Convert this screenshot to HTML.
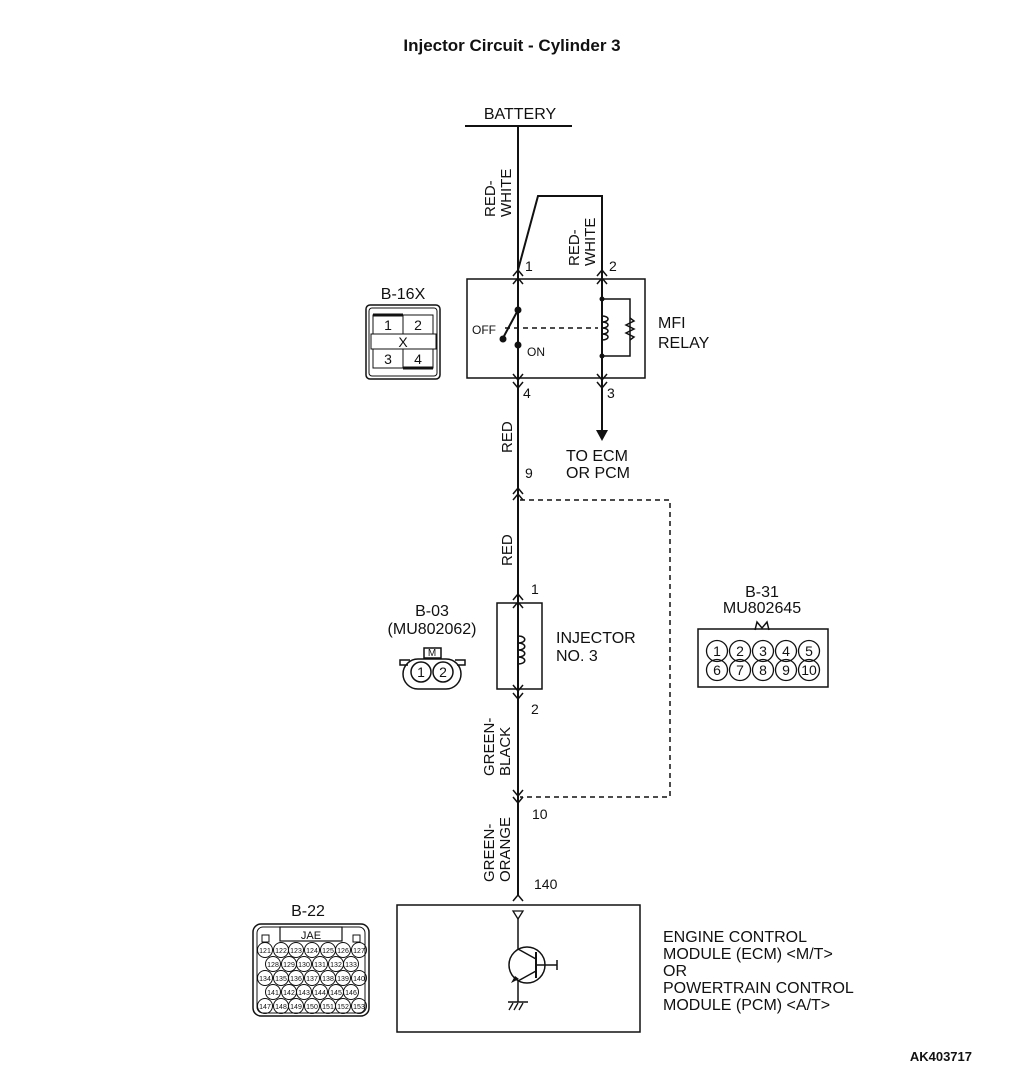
<!DOCTYPE html>
<html><head><meta charset="utf-8"><style>
html,body{margin:0;padding:0;background:#fff}
svg{display:block}
text{font-family:"Liberation Sans",Arial,sans-serif;fill:#111}
</style></head><body>
<svg width="1010" height="1073" viewBox="0 0 1010 1073" xmlns="http://www.w3.org/2000/svg">
<g font-size="15">
<text x="512" y="51" font-size="17" font-weight="bold" text-anchor="middle">Injector Circuit - Cylinder 3</text>
<text x="520" y="119" font-size="16" text-anchor="middle">BATTERY</text>
</g>
<g stroke="#111" stroke-width="2" fill="none">
<line x1="465" y1="126" x2="572" y2="126"/>
<line x1="518" y1="126" x2="518" y2="896"/>
<polyline points="518,270 538,196 602,196 602,433"/>
<rect x="467" y="279" width="178" height="99" stroke-width="1.5"/>
<rect x="497" y="603" width="45" height="86" stroke-width="1.5"/>
<rect x="397" y="905" width="243" height="127" stroke-width="1.5"/>
<g stroke-width="1.5">
<polyline points="513,276 518,270 523,276"/><polyline points="513,284 518,278 523,284"/>
<polyline points="597,276 602,270 607,276"/><polyline points="597,284 602,278 607,284"/>
<polyline points="513,374 518,380 523,374"/><polyline points="513,382 518,388 523,382"/>
<polyline points="597,374 602,380 607,374"/><polyline points="597,382 602,388 607,382"/>
<polyline points="513,494 518,488 523,494"/><polyline points="513,500 518,494 523,500"/>
<polyline points="513,600 518,594 523,600"/><polyline points="513,608 518,602 523,608"/>
<polyline points="513,685 518,691 523,685"/><polyline points="513,693 518,699 523,693"/>
<polyline points="513,790 518,796 523,790"/><polyline points="513,797 518,803 523,797"/>
<polyline points="513,901 518,895 523,901"/>
</g>
<line x1="518" y1="284" x2="518" y2="310"/>
<line x1="518" y1="345" x2="518" y2="374"/>
<line x1="518" y1="310" x2="503" y2="338"/>
<line x1="505" y1="328" x2="598" y2="328" stroke-dasharray="5,4" stroke-width="1.5"/>
<polyline points="602,299 630,299 630,356 602,356" stroke-width="1.5"/>
<path d="M602,316 c8,0 8,6 0,6 c8,0 8,6 0,6 c8,0 8,6 0,6 c8,0 8,6 0,6" stroke-width="1.5"/>
<polyline points="630,318 634,321 626,325 634,329 626,333 634,337 630,340" stroke-width="1.5"/>
<polyline points="520,500 670,500 670,797 520,797" stroke-dasharray="5,4" stroke-width="1.5"/>
<path d="M518,636 c9,0 9,7 0,7 c9,0 9,7 0,7 c9,0 9,7 0,7 c9,0 9,7 0,7" stroke-width="1.5"/>
<polygon points="513,911 523,911 518,919" stroke-width="1.3"/>
<line x1="518" y1="919" x2="518" y2="949" stroke-width="1.5"/>
<circle cx="527" cy="965" r="18" stroke-width="1.5"/>
<line x1="536" y1="952" x2="536" y2="978" stroke-width="2"/>
<line x1="518" y1="949" x2="536" y2="959" stroke-width="1.5"/>
<line x1="536" y1="971" x2="518" y2="981" stroke-width="1.5"/>
<line x1="518" y1="981" x2="518" y2="1002" stroke-width="1.5"/>
<line x1="536" y1="965" x2="557" y2="965" stroke-width="1.5"/>
<line x1="557" y1="960" x2="557" y2="970" stroke-width="1.5"/>
<line x1="508" y1="1002" x2="528" y2="1002" stroke-width="1.5"/>
<line x1="509" y1="1010" x2="513" y2="1003" stroke-width="1.3"/><line x1="514" y1="1010" x2="518" y2="1003" stroke-width="1.3"/><line x1="519" y1="1010" x2="523" y2="1003" stroke-width="1.3"/>
</g>
<g fill="#111">
<circle cx="518" cy="310" r="3.5"/><circle cx="503" cy="339" r="3.5"/><circle cx="518" cy="345" r="3.5"/>
<circle cx="602" cy="299" r="2.5"/><circle cx="602" cy="356" r="2.5"/>
<polygon points="596,430 608,430 602,441"/>
<polygon points="519,979 511,983 515,976"/>
</g>
<g font-size="14">
<text x="525" y="271">1</text><text x="609" y="271">2</text>
<text x="523" y="398">4</text><text x="607" y="398">3</text>
<text x="525" y="478">9</text>
<text x="531" y="594">1</text><text x="531" y="714">2</text>
<text x="532" y="819">10</text>
<text x="534" y="889">140</text>
<text x="472" y="334" font-size="12">OFF</text>
<text x="527" y="356" font-size="12">ON</text>
<text x="658" y="328" font-size="16">MFI</text>
<text x="658" y="348" font-size="16">RELAY</text>
<text x="566" y="461" font-size="16">TO ECM</text>
<text x="566" y="478" font-size="16">OR PCM</text>
<text x="556" y="643" font-size="16">INJECTOR</text>
<text x="556" y="661" font-size="16">NO. 3</text>
<text x="663" y="942" font-size="16">ENGINE CONTROL</text>
<text x="663" y="959" font-size="16">MODULE (ECM) &lt;M/T&gt;</text>
<text x="663" y="976" font-size="16">OR</text>
<text x="663" y="993" font-size="16">POWERTRAIN CONTROL</text>
<text x="663" y="1010" font-size="16">MODULE (PCM) &lt;A/T&gt;</text>
<text x="972" y="1061" font-size="13" font-weight="bold" text-anchor="end">AK403717</text>
</g>
<g font-size="15">
<text transform="translate(495,217) rotate(-90)">RED-</text>
<text transform="translate(511,217) rotate(-90)">WHITE</text>
<text transform="translate(579,266) rotate(-90)">RED-</text>
<text transform="translate(595,266) rotate(-90)">WHITE</text>
<text transform="translate(512,453) rotate(-90)">RED</text>
<text transform="translate(512,566) rotate(-90)">RED</text>
<text transform="translate(494,776) rotate(-90)">GREEN-</text>
<text transform="translate(510,776) rotate(-90)">BLACK</text>
<text transform="translate(494,882) rotate(-90)">GREEN-</text>
<text transform="translate(510,882) rotate(-90)">ORANGE</text>
</g>
<text x="403" y="299" font-size="16" text-anchor="middle">B-16X</text>
<g fill="none" stroke="#111">
<rect x="366" y="305" width="74" height="74" rx="4" stroke-width="1.5"/>
<rect x="369" y="308" width="68" height="68" rx="3" stroke-width="1"/>
<rect x="373" y="315" width="30" height="19" stroke-width="1"/>
<rect x="403" y="315" width="30" height="19" stroke-width="1"/>
<rect x="371" y="334" width="65" height="15" stroke-width="1"/>
<rect x="373" y="349" width="30" height="19" stroke-width="1"/>
<rect x="403" y="349" width="30" height="19" stroke-width="1"/>
<line x1="373" y1="315" x2="403" y2="315" stroke-width="3"/>
<line x1="403" y1="368" x2="433" y2="368" stroke-width="3"/>
</g>
<g font-size="14" text-anchor="middle">
<text x="388" y="330">1</text><text x="418" y="330">2</text><text x="403" y="347">X</text>
<text x="388" y="364">3</text><text x="418" y="364">4</text>
</g>
<text x="432" y="616" font-size="16" text-anchor="middle">B-03</text>
<text x="432" y="634" font-size="16" text-anchor="middle">(MU802062)</text>
<g fill="none" stroke="#111" stroke-width="1.5">
<rect x="424" y="648" width="17" height="10"/>
<polyline points="410,660 400,660 400,665 408,665"/>
<polyline points="455,660 465,660 465,665 457,665"/>
<path d="M418,659 L446,659 A15,15 0 0 1 446,689 L418,689 A15,15 0 0 1 418,659 Z"/>
<circle cx="421" cy="672" r="10"/><circle cx="443" cy="672" r="10"/>
</g>
<text x="432" y="656" font-size="10" text-anchor="middle">M</text>
<text x="421" y="677" font-size="14" text-anchor="middle">1</text>
<text x="443" y="677" font-size="14" text-anchor="middle">2</text>
<text x="762" y="597" font-size="16" text-anchor="middle">B-31</text>
<text x="762" y="613" font-size="16" text-anchor="middle">MU802645</text>
<polyline points="755,630 757,622 762,628 767,622 769,630" fill="none" stroke="#111" stroke-width="1.5"/>
<rect x="698" y="629" width="130" height="58" fill="none" stroke="#111" stroke-width="1.5"/>
<g fill="none" stroke="#111" stroke-width="1.3">
<circle cx="717" cy="651" r="10.5"/><circle cx="740" cy="651" r="10.5"/><circle cx="763" cy="651" r="10.5"/><circle cx="786" cy="651" r="10.5"/><circle cx="809" cy="651" r="10.5"/>
<circle cx="717" cy="670" r="10.5"/><circle cx="740" cy="670" r="10.5"/><circle cx="763" cy="670" r="10.5"/><circle cx="786" cy="670" r="10.5"/><circle cx="809" cy="670" r="10.5"/>
</g>
<g font-size="14" text-anchor="middle">
<text x="717" y="656">1</text><text x="740" y="656">2</text><text x="763" y="656">3</text><text x="786" y="656">4</text><text x="809" y="656">5</text>
<text x="717" y="675">6</text><text x="740" y="675">7</text><text x="763" y="675">8</text><text x="786" y="675">9</text><text x="809" y="675">10</text>
</g>
<text x="308" y="916" font-size="16" text-anchor="middle">B-22</text>
<g fill="none" stroke="#111" stroke-width="1.5">
<rect x="253" y="924" width="116" height="92" rx="8"/>
<rect x="257" y="927" width="108" height="86" rx="6" stroke-width="1"/>
<rect x="280" y="927" width="62" height="14" stroke-width="1.2"/>
<rect x="262" y="935" width="7" height="7" stroke-width="1"/>
<rect x="353" y="935" width="7" height="7" stroke-width="1"/>
</g>
<text x="311" y="939" font-size="11" text-anchor="middle">JAE</text>
<g fill="none" stroke="#111" stroke-width="1">
<circle cx="265" cy="950" r="7.5"/><circle cx="281" cy="950" r="7.5"/><circle cx="296" cy="950" r="7.5"/><circle cx="312" cy="950" r="7.5"/><circle cx="328" cy="950" r="7.5"/><circle cx="343" cy="950" r="7.5"/><circle cx="359" cy="950" r="7.5"/>
<circle cx="273" cy="964" r="7.5"/><circle cx="289" cy="964" r="7.5"/><circle cx="304" cy="964" r="7.5"/><circle cx="320" cy="964" r="7.5"/><circle cx="336" cy="964" r="7.5"/><circle cx="351" cy="964" r="7.5"/>
<circle cx="265" cy="978" r="7.5"/><circle cx="281" cy="978" r="7.5"/><circle cx="296" cy="978" r="7.5"/><circle cx="312" cy="978" r="7.5"/><circle cx="328" cy="978" r="7.5"/><circle cx="343" cy="978" r="7.5"/><circle cx="359" cy="978" r="7.5"/>
<circle cx="273" cy="992" r="7.5"/><circle cx="289" cy="992" r="7.5"/><circle cx="304" cy="992" r="7.5"/><circle cx="320" cy="992" r="7.5"/><circle cx="336" cy="992" r="7.5"/><circle cx="351" cy="992" r="7.5"/>
<circle cx="265" cy="1006" r="7.5"/><circle cx="281" cy="1006" r="7.5"/><circle cx="296" cy="1006" r="7.5"/><circle cx="312" cy="1006" r="7.5"/><circle cx="328" cy="1006" r="7.5"/><circle cx="343" cy="1006" r="7.5"/><circle cx="359" cy="1006" r="7.5"/>
</g>
<g font-size="7" text-anchor="middle">
<text x="265" y="953">121</text><text x="281" y="953">122</text><text x="296" y="953">123</text><text x="312" y="953">124</text><text x="328" y="953">125</text><text x="343" y="953">126</text><text x="359" y="953">127</text>
<text x="273" y="967">128</text><text x="289" y="967">129</text><text x="304" y="967">130</text><text x="320" y="967">131</text><text x="336" y="967">132</text><text x="351" y="967">133</text>
<text x="265" y="981">134</text><text x="281" y="981">135</text><text x="296" y="981">136</text><text x="312" y="981">137</text><text x="328" y="981">138</text><text x="343" y="981">139</text><text x="359" y="981">140</text>
<text x="273" y="995">141</text><text x="289" y="995">142</text><text x="304" y="995">143</text><text x="320" y="995">144</text><text x="336" y="995">145</text><text x="351" y="995">146</text>
<text x="265" y="1009">147</text><text x="281" y="1009">148</text><text x="296" y="1009">149</text><text x="312" y="1009">150</text><text x="328" y="1009">151</text><text x="343" y="1009">152</text><text x="359" y="1009">153</text>
</g>
</svg>
</body></html>
